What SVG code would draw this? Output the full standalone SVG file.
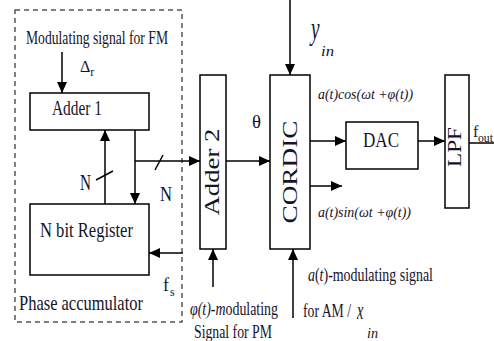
<svg xmlns="http://www.w3.org/2000/svg" width="494" height="341" viewBox="0 0 494 341" font-family="'Liberation Serif', 'Times New Roman', serif">
<defs>
<marker id="ah" markerUnits="userSpaceOnUse" markerWidth="12" markerHeight="10" refX="11" refY="5" orient="auto">
<path d="M0,0 L11,5 L0,10 Z" fill="#000"/>
</marker>
<style>
.box{fill:#fff;stroke:#000;stroke-width:1.5}
.ln{fill:none;stroke:#000;stroke-width:1.5}
.ar{fill:none;stroke:#000;stroke-width:1.5;marker-end:url(#ah)}
.t{font-family:'Liberation Serif','Times New Roman',serif;fill:#14142a}
.i{font-style:italic}
</style>
</defs>
<rect x="0" y="0" width="494" height="341" fill="#fff"/>
<g id="phase-accumulator">
<rect x="15" y="10" width="167" height="312" fill="none" stroke="#555" stroke-width="1.5" stroke-dasharray="5,4"/>
<text class="t" x="19" y="310" font-size="22" textLength="124" lengthAdjust="spacingAndGlyphs">Phase accumulator</text>
</g>
<g id="fm-input">
<text class="t" x="26" y="44" font-size="18" textLength="142" lengthAdjust="spacingAndGlyphs">Modulating signal for FM</text>
<text class="t" x="80" y="72" font-size="16">Δ<tspan font-size="12" dy="4">r</tspan></text>
</g>
<g id="adder1">
<rect class="box" x="30" y="93" width="119" height="37"/>
<text class="t" x="52" y="115" font-size="21" textLength="50" lengthAdjust="spacingAndGlyphs">Adder 1</text>
</g>
<g id="register">
<rect class="box" x="30" y="204" width="119" height="71"/>
<text class="t" x="40" y="237" font-size="21" textLength="93" lengthAdjust="spacingAndGlyphs">N bit Register</text>
</g>
<g id="adder2">
<rect class="box" x="200" y="75" width="26" height="174"/>
<text class="t" transform="translate(219,172) rotate(-90)" text-anchor="middle" font-size="20" textLength="87" lengthAdjust="spacingAndGlyphs">Adder 2</text>
</g>
<g id="cordic">
<rect class="box" x="270" y="75" width="40" height="174"/>
<text class="t" transform="translate(297,172) rotate(-90)" text-anchor="middle" font-size="20" textLength="103" lengthAdjust="spacingAndGlyphs">CORDIC</text>
</g>
<g id="dac">
<rect class="box" x="346" y="122" width="72" height="47"/>
<text class="t" x="381" y="147" text-anchor="middle" font-size="22" textLength="36" lengthAdjust="spacingAndGlyphs">DAC</text>
</g>
<g id="lpf">
<rect class="box" x="445" y="75" width="24" height="133"/>
<text class="t" transform="translate(461,147) rotate(-90)" text-anchor="middle" font-size="18" textLength="40" lengthAdjust="spacingAndGlyphs">LPF</text>
</g>
<g id="connectors">
<line class="ar" x1="62" y1="52" x2="62" y2="93"/>
<line class="ar" x1="105" y1="204" x2="105" y2="130"/>
<line class="ar" x1="135" y1="130" x2="135" y2="204"/>
<line class="ar" x1="135" y1="161" x2="200" y2="161"/>
<line class="ln" x1="96" y1="180" x2="113" y2="171"/>
<line class="ln" x1="155" y1="170" x2="163" y2="155"/>
<line class="ar" x1="183" y1="253" x2="149" y2="253"/>
<line class="ar" x1="226" y1="161" x2="270" y2="161"/>
<line class="ar" x1="290" y1="0" x2="290" y2="75"/>
<line class="ar" x1="213" y1="287" x2="213" y2="249"/>
<line class="ar" x1="293" y1="318" x2="293" y2="249"/>
<line class="ar" x1="310" y1="141" x2="346" y2="141"/>
<line class="ar" x1="310" y1="186" x2="342" y2="186"/>
<line class="ar" x1="418" y1="141" x2="445" y2="141"/>
<line class="ln" x1="469" y1="143" x2="494" y2="143"/>
</g>
<g id="labels">
<text class="t" x="80" y="190" font-size="23" textLength="11" lengthAdjust="spacingAndGlyphs">N</text>
<text class="t" x="160" y="201" font-size="21" textLength="12" lengthAdjust="spacingAndGlyphs">N</text>
<text class="t" x="163" y="291" font-size="18">f</text>
<text class="t" x="170" y="296" font-size="12">s</text>
<text class="t" x="252" y="128" font-size="19" textLength="9" lengthAdjust="spacingAndGlyphs">θ</text>
<text class="t i" transform="translate(311,39) scale(0.6,1)" font-size="32">y</text>
<text class="t i" x="321" y="56" font-size="14" textLength="13" lengthAdjust="spacingAndGlyphs">in</text>
<text class="t i" x="318" y="99" font-size="15" textLength="95" lengthAdjust="spacingAndGlyphs">a(t)cos(ωt +φ(t))</text>
<text class="t i" x="318" y="217" font-size="15" textLength="93" lengthAdjust="spacingAndGlyphs">a(t)sin(ωt +φ(t))</text>
<text class="t" x="473" y="137" font-size="16">f</text>
<text class="t" x="478" y="142" font-size="12" textLength="15" lengthAdjust="spacingAndGlyphs">out</text>
<text class="t" x="190" y="315" font-size="18" textLength="88" lengthAdjust="spacingAndGlyphs"><tspan class="i">φ(t)-m</tspan>odulating</text>
<text class="t" x="194" y="338" font-size="19" textLength="78" lengthAdjust="spacingAndGlyphs">Signal for PM</text>
<text class="t" x="308" y="281" font-size="18" textLength="125" lengthAdjust="spacingAndGlyphs"><tspan class="i">a</tspan>(<tspan class="i">t</tspan>)-modulating signal</text>
<text class="t" x="303" y="317" font-size="18" textLength="48" lengthAdjust="spacingAndGlyphs">for AM /</text>
<text class="t i" transform="translate(357,319) scale(0.55,1)" font-size="26">x</text>
<text class="t i" x="367" y="338" font-size="14" textLength="11" lengthAdjust="spacingAndGlyphs">in</text>
</g>
</svg>
